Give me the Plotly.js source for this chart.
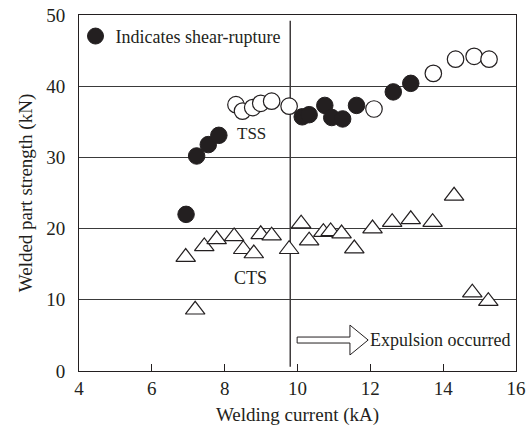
<!DOCTYPE html>
<html>
<head>
<meta charset="utf-8">
<script src="https://cdn.plot.ly/plotly-3.0.1.min.js"></script>
<style>
  html, body { margin: 0; padding: 0; background: #fff; }
  #chart { width: 529px; height: 426px; }
</style>
</head>
<body>
<div id="chart"></div>
<script>
// TSS, shear-rupture (filled circles)
const shearX = [6.94, 7.23, 7.55, 7.84, 10.13, 10.32, 10.75, 10.94, 11.24, 11.62, 12.63, 13.11];
const shearY = [22.0, 30.2, 31.8, 33.1, 35.7, 36.0, 37.3, 35.6, 35.4, 37.3, 39.2, 40.4];
// TSS, other fracture (open circles)
const openX = [8.31, 8.49, 8.77, 8.99, 9.29, 9.77, 12.10, 13.73, 14.34, 14.85, 15.26];
const openY = [37.4, 36.5, 37.0, 37.6, 37.9, 37.2, 36.8, 41.8, 43.8, 44.2, 43.8];
// CTS (open triangles)
const ctsX = [6.93, 7.19, 7.44, 7.78, 8.26, 8.51, 8.80, 8.99, 9.29, 9.77, 10.10, 10.32, 10.71, 10.91, 11.21, 11.56, 12.06, 12.60, 13.11, 13.71, 14.30, 14.80, 15.24];
const ctsY = [16.0, 8.6, 17.5, 18.5, 18.9, 17.1, 16.5, 19.2, 19.0, 17.1, 20.7, 18.3, 19.5, 19.6, 19.3, 17.2, 20.0, 20.9, 21.3, 20.9, 24.6, 11.0, 9.8];
// Axis ticks
const xTicks = [4, 6, 8, 10, 12, 14, 16];
const yTicks = [0, 10, 20, 30, 40, 50];
// Expulsion threshold current (kA)
const expulsionCurrent = 9.8;

const FONT = 'Liberation Serif, Times New Roman, serif';
const INK = '#231f20';

const traces = [
  {
    x: ctsX, y: ctsY, type: 'scatter', mode: 'markers', name: 'CTS', showlegend: false,
    marker: { symbol: 'triangle-up', size: 17, color: '#ffffff', line: { color: INK, width: 1.2 } }
  },
  {
    x: openX, y: openY, type: 'scatter', mode: 'markers', name: 'TSS', showlegend: false,
    marker: { symbol: 'circle', size: 16.5, color: '#ffffff', line: { color: INK, width: 1.2 } }
  },
  {
    x: shearX, y: shearY, type: 'scatter', mode: 'markers', name: 'Indicates shear-rupture', showlegend: true,
    marker: { symbol: 'circle', size: 16.5, color: INK, line: { color: INK, width: 1 } }
  }
];

const layout = {
  width: 529, height: 426,
  margin: { l: 79, r: 13, t: 15, b: 55 },
  paper_bgcolor: '#ffffff', plot_bgcolor: '#ffffff',
  font: { family: FONT, size: 18, color: INK },
  showlegend: true,
  legend: {
    x: -0.008, y: 0.992, xanchor: 'left', yanchor: 'top',
    bgcolor: 'rgba(0,0,0,0)', borderwidth: 0,
    font: { family: FONT, size: 18, color: INK }
  },
  xaxis: {
    range: [4, 16], tickvals: xTicks, ticktext: xTicks.map(String),
    ticks: 'inside', ticklen: 7, tickwidth: 1, tickcolor: INK,
    showline: true, linecolor: INK, linewidth: 1, mirror: true,
    showgrid: false, zeroline: false, automargin: false,
    tickfont: { family: FONT, size: 19, color: INK },
    title: { text: 'Welding current (kA)', font: { family: FONT, size: 19, color: INK }, standoff: 20 }
  },
  yaxis: {
    range: [0, 50], tickvals: yTicks, ticktext: yTicks.map(String),
    ticks: '', showline: true, linecolor: INK, linewidth: 1, mirror: true,
    showgrid: true, gridcolor: '#3a3a3a', gridwidth: 1, zeroline: false, automargin: false,
    ticklabelstandoff: 9,
    tickfont: { family: FONT, size: 19, color: INK },
    title: { text: 'Welded part strength (kN)', font: { family: FONT, size: 19, color: INK }, standoff: 8 }
  },
  shapes: [
    {
      type: 'line', xref: 'x', yref: 'y', layer: 'below',
      x0: expulsionCurrent, x1: expulsionCurrent, y0: 0.6, y1: 49.2,
      line: { color: INK, width: 1.3 }
    },
    {
      type: 'path', xref: 'x', yref: 'y', layer: 'above',
      path: 'M 9.99,4.77 L 11.44,4.77 L 11.44,6.45 L 11.94,4.35 L 11.44,2.25 L 11.44,3.93 L 9.99,3.93 Z',
      fillcolor: '#ffffff', line: { color: INK, width: 1 }
    }
  ],
  annotations: [
    { x: 8.75, y: 33.4, xref: 'x', yref: 'y', text: 'TSS', showarrow: false, font: { family: FONT, size: 17, color: INK } },
    { x: 8.7, y: 13.0, xref: 'x', yref: 'y', text: 'CTS', showarrow: false, font: { family: FONT, size: 18, color: INK } },
    { x: 11.94, y: 4.35, xref: 'x', yref: 'y', xanchor: 'left', text: 'Expulsion occurred', showarrow: false, font: { family: FONT, size: 18, color: INK } }
  ]
};

Plotly.newPlot('chart', traces, layout, { displayModeBar: false, staticPlot: true });
</script>
</body>
</html>
